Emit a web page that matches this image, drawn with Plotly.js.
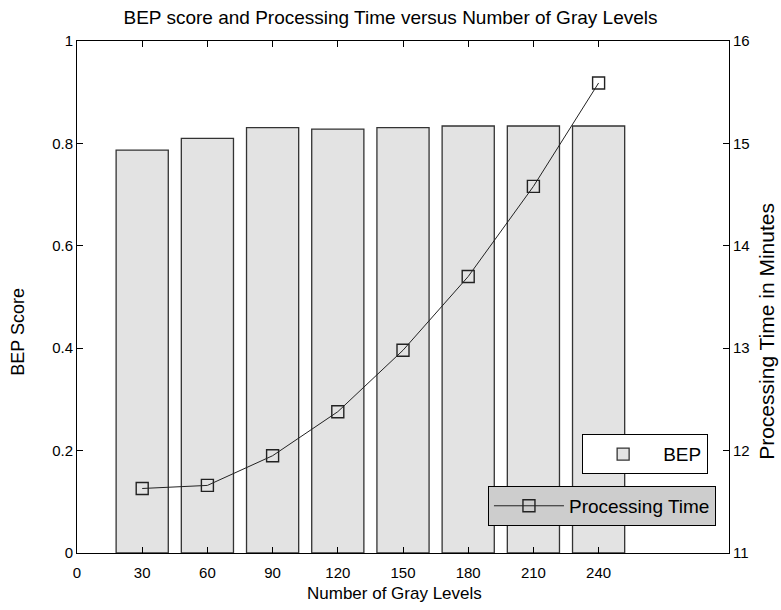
<!DOCTYPE html>
<html>
<head>
<meta charset="utf-8">
<script src="https://cdn.plot.ly/plotly-3.0.1.min.js"></script>
<style>html,body{margin:0;padding:0;background:#fff;}#chart{width:781px;height:610px;}</style>
</head>
<body>
<div id="chart"></div>
<script>
// Data
const grayLevels = [30, 60, 90, 120, 150, 180, 210, 240];
const bepScore = [0.787, 0.810, 0.831, 0.828, 0.831, 0.834, 0.834, 0.834];
const procTime = [11.63, 11.66, 11.95, 12.38, 12.98, 13.70, 14.58, 15.59];
const xTicks = [0, 30, 60, 90, 120, 150, 180, 210, 240];
const yTicks = [0, 0.2, 0.4, 0.6, 0.8, 1];
const yTickText = ['0', '0.2', '0.4', '0.6', '0.8', '1'];
const y2Ticks = [11, 12, 13, 14, 15, 16];

const FONT = 'Liberation Sans, Arial, Helvetica, sans-serif';

const traces = [
  {
    type: 'bar', name: 'BEP', x: grayLevels, y: bepScore, width: 24,
    marker: {color: '#e3e3e3', line: {color: '#333333', width: 1.3}},
    legend: 'legend', hoverinfo: 'x+y'
  },
  {
    type: 'scatter', mode: 'lines+markers', name: 'Processing Time',
    x: grayLevels, y: procTime, yaxis: 'y2',
    line: {color: '#222222', width: 1},
    marker: {symbol: 'square-open', size: 12, color: '#222222', line: {width: 1.4, color: '#222222'}},
    legend: 'legend2'
  }
];

const layout = {
  width: 781, height: 610,
  margin: {l: 77, r: 52, t: 41, b: 57},
  paper_bgcolor: '#ffffff', plot_bgcolor: '#ffffff',
  font: {family: FONT, size: 15, color: '#000'},
  title: {text: 'BEP score and Processing Time versus Number of Gray Levels',
          font: {family: FONT, size: 19, color: '#000'}, x: 0.5, xanchor: 'center', y: 0.971, yanchor: 'middle'},
  showlegend: true,
  xaxis: {
    range: [0, 300], tickvals: xTicks, ticktext: xTicks.map(String),
    ticks: 'inside', ticklen: 6, tickcolor: '#000', tickwidth: 1,
    showline: true, linecolor: '#000', linewidth: 1, mirror: 'ticks',
    showgrid: false, zeroline: false, ticklabelstandoff: 6,
    tickfont: {family: FONT, size: 15}
  },
  yaxis: {
    range: [0, 1], tickvals: yTicks, ticktext: yTickText,
    ticks: 'inside', ticklen: 6, tickcolor: '#000',
    showline: true, linecolor: '#000', linewidth: 1,
    showgrid: false, zeroline: false,
    tickfont: {family: FONT, size: 15}
  },
  yaxis2: {
    range: [11, 16], tickvals: y2Ticks, overlaying: 'y', side: 'right',
    ticks: 'inside', ticklen: 6, tickcolor: '#000',
    showline: true, linecolor: '#000', linewidth: 1,
    showgrid: false, zeroline: false,
    tickfont: {family: FONT, size: 15}
  },
  annotations: [
    {text: 'Number of Gray Levels', xref: 'paper', yref: 'paper', x: 0.487, y: 0,
     xanchor: 'center', yanchor: 'middle', yshift: -40, showarrow: false,
     font: {family: FONT, size: 17, color: '#000'}},
    {text: 'BEP Score', xref: 'paper', yref: 'paper', x: 0, y: 0.432,
     xanchor: 'center', yanchor: 'middle', xshift: -59, textangle: -90, showarrow: false,
     font: {family: FONT, size: 18, color: '#000'}},
    {text: 'Processing Time in Minutes', xref: 'paper', yref: 'paper', x: 1, y: 0.432,
     xanchor: 'center', yanchor: 'middle', xshift: 38, textangle: -90, showarrow: false,
     font: {family: FONT, size: 21, color: '#000'}}
  ],
  legend: {
    x: 0.968, xanchor: 'right', y: 0.232, yanchor: 'top',
    bgcolor: '#ffffff', bordercolor: '#000', borderwidth: 1,
    font: {family: FONT, size: 19}, itemwidth: 70
  },
  legend2: {
    x: 0.98, xanchor: 'right', y: 0.131, yanchor: 'top',
    bgcolor: '#cdcdcd', bordercolor: '#000', borderwidth: 1,
    font: {family: FONT, size: 19}, itemwidth: 70
  },
  bargap: 0
};

Plotly.newPlot('chart', traces, layout, {displayModeBar: false, staticPlot: true});
</script>
</body>
</html>
